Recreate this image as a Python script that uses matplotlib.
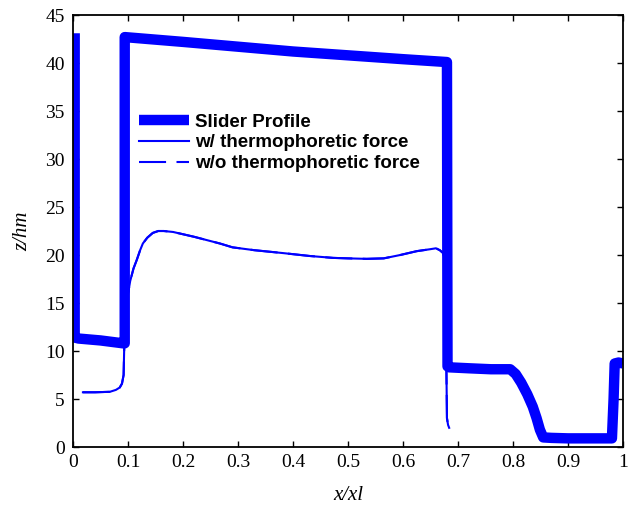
import matplotlib
matplotlib.use("Agg")
import matplotlib.pyplot as plt

# Slider profile
slider_x = [0.003, 0.003, 0.01, 0.05, 0.091, 0.094, 0.094, 0.2, 0.3, 0.4, 0.5, 0.6, 0.68,
            0.681, 0.684, 0.72, 0.76, 0.795, 0.805, 0.815, 0.826, 0.836, 0.843, 0.849, 0.855,
            0.87, 0.9, 0.95, 0.98, 0.983, 0.985, 0.992, 1.0]
slider_z = [43.1, 11.4, 11.3, 11.1, 10.8, 10.8, 42.7, 42.2, 41.7, 41.2, 40.8, 40.4, 40.1,
            8.4, 8.3, 8.2, 8.1, 8.1, 7.6, 6.7, 5.5, 4.2, 3.0, 1.8, 1.0,
            0.95, 0.9, 0.9, 0.9, 5.0, 8.7, 8.8, 8.7]

# Particle trajectory with thermophoretic force
with_x = [0.018, 0.04, 0.067, 0.078, 0.085, 0.089, 0.092, 0.093, 0.095, 0.098, 0.104, 0.11,
          0.116, 0.122, 0.127, 0.135, 0.145, 0.155, 0.165, 0.182, 0.22, 0.267, 0.29, 0.33,
          0.382, 0.43, 0.473, 0.5, 0.534, 0.565, 0.595, 0.625, 0.649, 0.66, 0.667, 0.673,
          0.676, 0.678, 0.679, 0.68, 0.682, 0.684]
with_z = [5.7, 5.7, 5.75, 5.95, 6.2, 6.6, 7.5, 10.1, 12.8, 15.3, 17.3, 18.6,
          19.5, 20.5, 21.2, 21.8, 22.3, 22.5, 22.5, 22.4, 21.9, 21.2, 20.8, 20.5,
          20.2, 19.9, 19.7, 19.65, 19.6, 19.65, 20.0, 20.4, 20.6, 20.7, 20.5, 20.2,
          19.6, 15.0, 8.0, 3.0, 2.3, 2.0]

# Particle trajectory without thermophoretic force (coincides with the above)
without_x = list(with_x)
without_z = list(with_z)

xticks = [0, 0.1, 0.2, 0.3, 0.4, 0.5, 0.6, 0.7, 0.8, 0.9, 1]
xticklabels = ["0", "0.1", "0.2", "0.3", "0.4", "0.5", "0.6", "0.7", "0.8", "0.9", "1"]
yticks = [0, 5, 10, 15, 20, 25, 30, 35, 40, 45]

blue = "#0000ff"
fig = plt.figure(figsize=(6.35, 5.09), dpi=100)
ax = fig.add_axes([0.115, 0.1218, 0.866, 0.8487])

ax.plot(slider_x, slider_z, color=blue, lw=7.5, solid_joinstyle="round",
        solid_capstyle="butt", label="Slider Profile")
ax.plot(with_x, with_z, color=blue, lw=1.5, label="w/ thermophoretic force")
ax.plot(without_x, without_z, color=blue, lw=1.5, dashes=(13, 5),
        label="w/o thermophoretic force")

ax.set_xlim(0, 1)
ax.set_ylim(0, 45)
ax.set_xticks(xticks)
ax.set_xticklabels(xticklabels)
ax.set_yticks(yticks)
ax.tick_params(direction="in", top=True, right=True, length=4, width=1,
               labelsize=14)
ax.tick_params(axis="x", pad=5)
ax.tick_params(axis="y", pad=6)
for lab in ax.get_xticklabels() + ax.get_yticklabels():
    lab.set_fontfamily("Liberation Serif")
for s in ax.spines.values():
    s.set_linewidth(1.3)

ax.set_xlabel("x/xl", fontsize=15, fontfamily="Liberation Serif", style="italic", labelpad=11)
ax.set_ylabel("z/hm", fontsize=15, fontfamily="Liberation Serif", style="italic", labelpad=9)

leg = ax.legend(loc="upper left", bbox_to_anchor=(0.1035, 0.794), frameon=False,
                prop={"family": "Liberation Sans", "weight": "bold", "size": 13.5},
                handlelength=2.67, handletextpad=0.3, labelspacing=0.2, borderpad=0)

fig.savefig("out.png", dpi=100)
